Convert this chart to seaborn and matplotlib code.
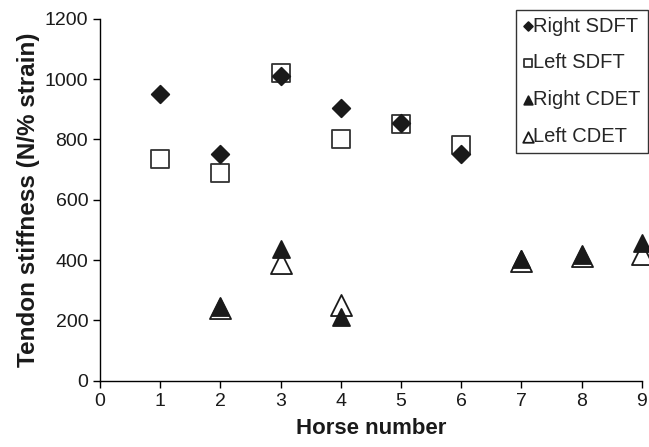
import matplotlib
matplotlib.use("Agg")
import matplotlib.pyplot as plt
import seaborn as sns
import pandas as pd

sns.set_theme(style="white")
plt.rcParams["font.family"] = ["Liberation Sans", "DejaVu Sans"]

horses_sdft = [1, 2, 3, 4, 5, 6]
right_sdft = [950, 752, 1010, 905, 855, 752]
left_sdft = [736, 690, 1020, 803, 850, 783]

horses_cdet = [2, 3, 4, 7, 8, 9]
right_cdet = [245, 437, 212, 404, 418, 457]
left_cdet = [240, 391, 252, 398, 413, 420]

series = [
    ("Right SDFT", horses_sdft, right_sdft, "D", "#1a1a1a", "#1a1a1a", 80),
    ("Left SDFT", horses_sdft, left_sdft, "s", "white", "#333333", 165),
    ("Right CDET", horses_cdet, right_cdet, "^", "#1a1a1a", "#1a1a1a", 150),
    ("Left CDET", horses_cdet, left_cdet, "^", "white", "#1a1a1a", 230),
]

fig = plt.figure(figsize=(6.49, 4.47), dpi=100)
ax = fig.add_axes([0.154, 0.148, 0.835, 0.81])

# Open markers go underneath, filled markers on top
order = [1, 3, 0, 2]
for i in order:
    name, xs, ys, mk, fc, ec, sz = series[i]
    df = pd.DataFrame({"horse": xs, "stiffness": ys})
    sns.scatterplot(data=df, x="horse", y="stiffness", marker=mk, s=sz,
                    color=fc, edgecolor=ec, linewidth=1.3, ax=ax,
                    zorder=3 if fc == "white" else 4, label=name,
                    clip_on=False)

ax.set_xlim(0, 9)
ax.set_ylim(0, 1200)
ax.set_xticks(range(0, 10))
ax.set_yticks(range(0, 1201, 200))
for s in ["top", "right"]:
    ax.spines[s].set_visible(False)
for s in ["left", "bottom"]:
    ax.spines[s].set_color("black")
    ax.spines[s].set_linewidth(1.0)
ax.tick_params(axis="both", direction="out", length=5, width=1, color="black",
               labelsize=14, labelcolor="#1a1a1a", bottom=True, left=True)
ax.set_xlabel("Horse number", fontsize=16, fontweight="bold", color="#1a1a1a",
              labelpad=6)
ax.set_ylabel("Tendon stiffness (N/% strain)", fontsize=17.5, fontweight="bold",
              color="#1a1a1a", labelpad=3)

handles, labels = ax.get_legend_handles_labels()
hmap = dict(zip(labels, handles))
names = [s[0] for s in series]
leg = ax.legend([hmap[n] for n in names], names, loc="upper right",
                bbox_to_anchor=(1.011, 1.025), fontsize=14.5, frameon=True,
                fancybox=False, edgecolor="black", handletextpad=0.0,
                handlelength=0.5, markerscale=0.5, labelspacing=0.88,
                borderpad=0.35, borderaxespad=0.0)
leg.get_frame().set_linewidth(1.0)

fig.savefig("out.png", dpi=100)
